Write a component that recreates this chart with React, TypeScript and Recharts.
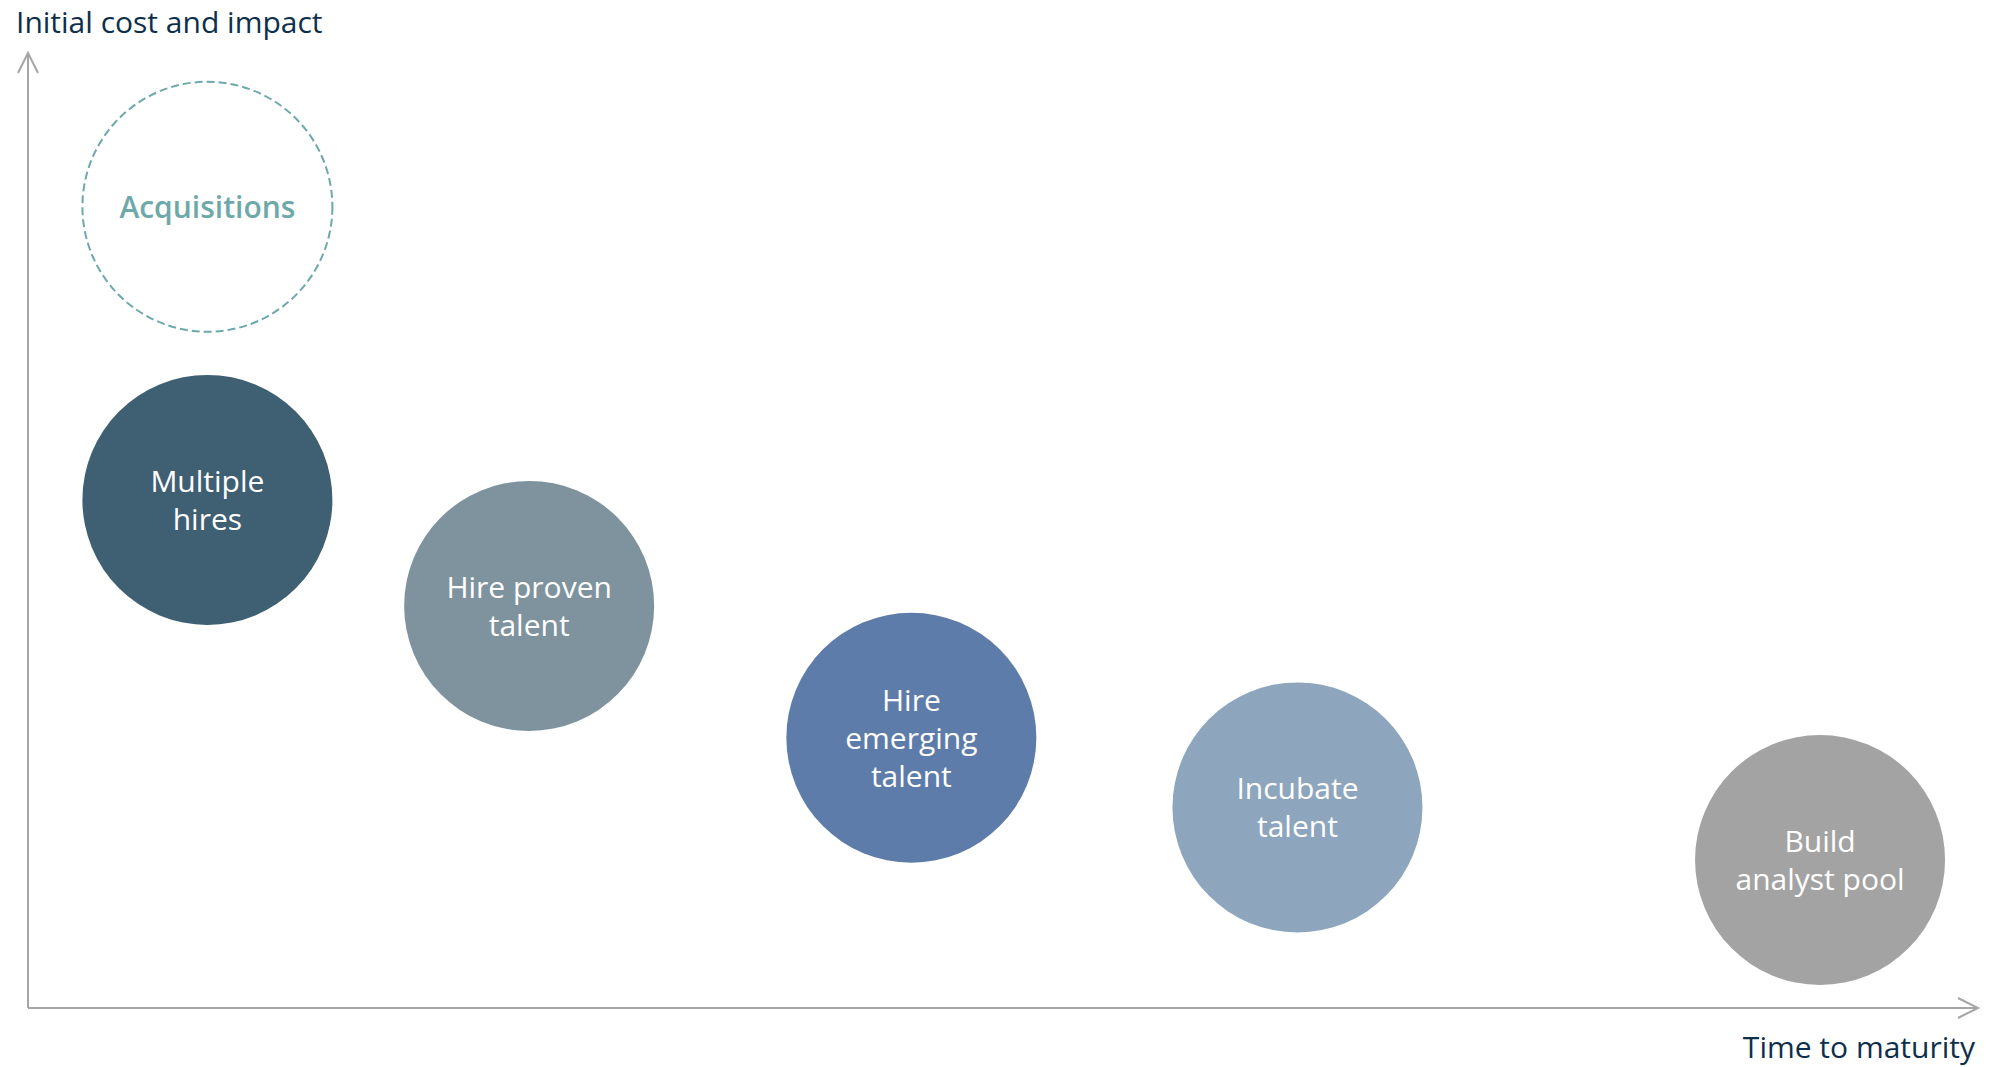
import React from 'react'
import { ScatterChart, Scatter, XAxis, YAxis } from 'recharts'

// talent approaches: time to maturity (x) vs initial cost and impact (y), 0-100 scale
const approaches = ['Acquisitions', 'Multiple hires', 'Hire proven talent', 'Hire emerging talent', 'Incubate talent', 'Build analyst pool']
const labelLines = [
  ['Acquisitions'],
  ['Multiple', 'hires'],
  ['Hire proven', 'talent'],
  ['Hire', 'emerging', 'talent'],
  ['Incubate', 'talent'],
  ['Build', 'analyst pool'],
]
const timeToMaturity = [9.2, 9.2, 25.7, 45.3, 65.1, 91.9]
const initialCost = [83.9, 53.2, 42.1, 28.3, 21.0, 15.5]

const xAxisTitle = 'Time to maturity'
const yAxisTitle = 'Initial cost and impact'

const fills = ['none', '#3f5f73', '#7f939f', '#5e7ca9', '#8ea6bd', '#a3a3a3']
const AXIS = '#a6a6a6'
const TITLE = '#0d2f4b'
const ACQ = '#6ea9aa'
const FONT = "'Segoe UI', 'Open Sans', sans-serif"
const R = 125

const data = approaches.map((name, i) => ({
  name,
  lines: labelLines[i],
  x: timeToMaturity[i],
  y: initialCost[i],
  fill: fills[i],
  dashed: i === 0,
}))

const Bubble = (props: any) => {
  const { cx, cy, payload } = props
  const lines: string[] = payload.lines
  const fs = 30
  const lh = 38
  const first = cy + fs * 0.36 - ((lines.length - 1) * lh) / 2
  return (
    <g>
      {payload.dashed ? (
        <circle cx={cx} cy={cy} r={R} fill="none" stroke={ACQ} strokeWidth={2} strokeDasharray="8 4" />
      ) : (
        <circle cx={cx} cy={cy} r={R} fill={payload.fill} />
      )}
      <text
        textAnchor="middle"
        fontFamily={FONT}
        fontSize={fs}
        fontWeight={payload.dashed ? 600 : 400}
        fill={payload.dashed ? ACQ : '#ffffff'}
      >
        {lines.map((l, k) => (
          <tspan key={k} x={cx} y={first + k * lh}>{l}</tspan>
        ))}
      </text>
    </g>
  )
}

export default function App() {
  return (
    <div style={{ position: 'absolute', left: 0, top: 0, width: 2000, height: 1067, background: '#fff' }}>
      <ScatterChart width={2000} height={1067} margin={{ top: 53, right: 22, bottom: 58, left: 27 }}>
        <defs>
          <marker
            id="arrowHead"
            viewBox="-24 -14 28 28"
            refX={0}
            refY={0}
            markerWidth={28}
            markerHeight={28}
            markerUnits="userSpaceOnUse"
            orient="auto-start-reverse"
          >
            <path d="M -20 -10 L 0 0 L -20 10" fill="none" stroke={AXIS} strokeWidth={2} />
          </marker>
        </defs>
        <XAxis
          type="number"
          dataKey="x"
          domain={[0, 100]}
          height={1}
          tick={false}
          tickLine={false}
          axisLine={{ stroke: AXIS, strokeWidth: 2, markerEnd: 'url(#arrowHead)' }}
        />
        <YAxis
          type="number"
          dataKey="y"
          domain={[0, 100]}
          width={1}
          tick={false}
          tickLine={false}
          axisLine={{ stroke: AXIS, strokeWidth: 2, markerStart: 'url(#arrowHead)' }}
        />
        <Scatter data={data} shape={Bubble} isAnimationActive={false} />
        <text x={16} y={33} fontFamily={FONT} fontSize={30} fill={TITLE}>{yAxisTitle}</text>
        <text x={1975} y={1058} textAnchor="end" fontFamily={FONT} fontSize={30} fill={TITLE}>{xAxisTitle}</text>
      </ScatterChart>
    </div>
  )
}
